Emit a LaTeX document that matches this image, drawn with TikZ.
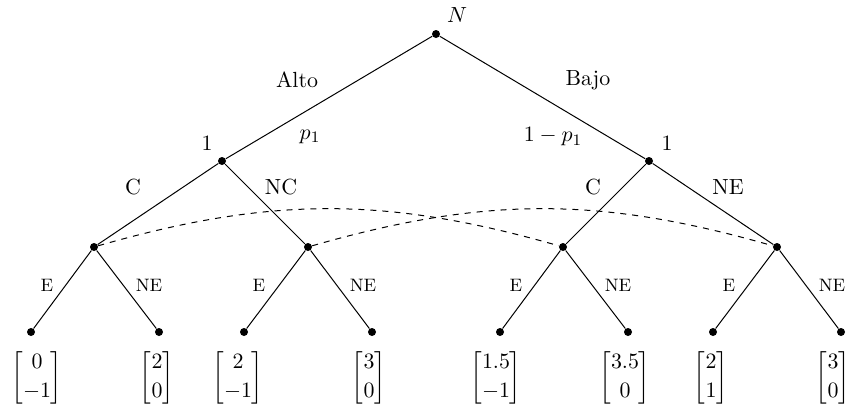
\documentclass[tikz,border=0pt,11pt]{standalone}
\usepackage{amsmath}
\begin{document}
\begin{tikzpicture}[x=0.5pt,y=-0.5pt,
  dot/.style={circle,fill,inner sep=0pt,minimum size=4pt},
  lab/.style={inner sep=0pt},
  slab/.style={inner sep=0pt,font=\footnotesize},
  pay/.style={inner sep=0pt,anchor=north},
  edgeline/.style={line width=0.5pt},
  infoset/.style={dashed,line width=0.5pt}]
\useasboundingbox (0,0) rectangle (851,408);
\clip (0,0) rectangle (851,408);
% nodes
\node[dot] (r) at (436,34) {};
\node[dot] (a1) at (222,161) {};
\node[dot] (a2) at (649,161) {};
\node[dot] (b1) at (94,247) {};
\node[dot] (b2) at (308,247) {};
\node[dot] (b3) at (563,247) {};
\node[dot] (b4) at (777,247) {};
\node[dot] (l1) at (31,332) {};
\node[dot] (l2) at (159,332) {};
\node[dot] (l3) at (244,332) {};
\node[dot] (l4) at (372,332) {};
\node[dot] (l5) at (500,332) {};
\node[dot] (l6) at (628,332) {};
\node[dot] (l7) at (713,332) {};
\node[dot] (l8) at (841,332) {};
% edges
\draw[edgeline] (r) -- (a1);
\draw[edgeline] (r) -- (a2);
\draw[edgeline] (a1) -- (b1);
\draw[edgeline] (a1) -- (b2);
\draw[edgeline] (a2) -- (b3);
\draw[edgeline] (a2) -- (b4);
\draw[edgeline] (b1) -- (l1);
\draw[edgeline] (b1) -- (l2);
\draw[edgeline] (b2) -- (l3);
\draw[edgeline] (b2) -- (l4);
\draw[edgeline] (b3) -- (l5);
\draw[edgeline] (b3) -- (l6);
\draw[edgeline] (b4) -- (l7);
\draw[edgeline] (b4) -- (l8);
% information sets
\draw[infoset] (b1) to[bend left=16] (b3);
\draw[infoset] (b2) to[bend left=16] (b4);
% player labels
\node[lab] (tN) at (457,15) {$N$};
\node[lab] (t1a) at (207,143) {1};
\node[lab] (t1b) at (667,143) {1};
% move labels
\node[lab] (tAlto) at (297,80) {Alto};
\node[lab] (tBajo) at (588,80) {Bajo};
\node[lab] (tp) at (310,137) {$p_1$};
\node[lab] (tq) at (553,137) {$1-p_1$};
\node[lab] (tC1) at (133,187) {C};
\node[lab] (tNC) at (281,187) {NC};
\node[lab] (tC2) at (593,187) {C};
\node[lab] (tNE) at (728,187) {NE};
\node[slab] (e1) at (47,285) {E};
\node[slab] (e2) at (149,285) {NE};
\node[slab] (e3) at (259,285) {E};
\node[slab] (e4) at (363,285) {NE};
\node[slab] (e5) at (516,285) {E};
\node[slab] (e6) at (618,285) {NE};
\node[slab] (e7) at (729,285) {E};
\node[slab] (e8) at (832,285) {NE};
% payoffs
\node[pay] (p1) at (37,349) {$\begin{bmatrix}0\\[1pt]-1\end{bmatrix}$};
\node[pay] (p2) at (157,349) {$\begin{bmatrix}2\\[1pt]0\end{bmatrix}$};
\node[pay] (p3) at (238,349) {$\begin{bmatrix}2\\[1pt]-1\end{bmatrix}$};
\node[pay] (p4) at (369,349) {$\begin{bmatrix}3\\[1pt]0\end{bmatrix}$};
\node[pay] (p5) at (496,349) {$\begin{bmatrix}1.5\\[1pt]-1\end{bmatrix}$};
\node[pay] (p6) at (625,349) {$\begin{bmatrix}3.5\\[1pt]0\end{bmatrix}$};
\node[pay] (p7) at (711,349) {$\begin{bmatrix}2\\[1pt]1\end{bmatrix}$};
\node[pay] (p8) at (833,349) {$\begin{bmatrix}3\\[1pt]0\end{bmatrix}$};
\end{tikzpicture}
\end{document}
